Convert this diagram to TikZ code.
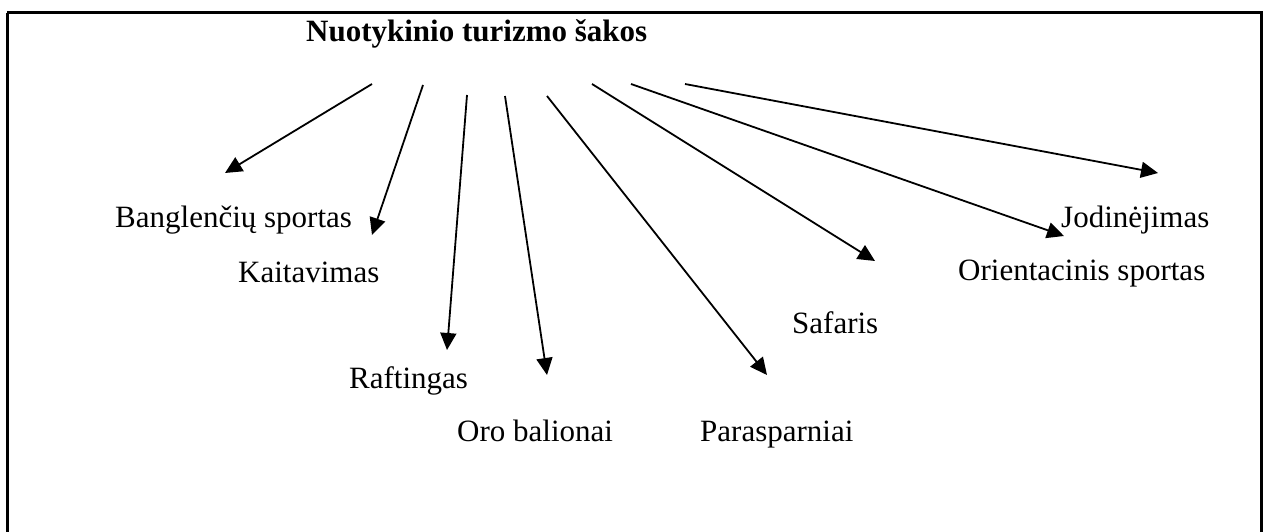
\documentclass[tikz,border=0pt]{standalone}
\usepackage{fontspec}
\setmainfont{Liberation Serif}
\usetikzlibrary{arrows.meta}
\begin{document}
\begin{tikzpicture}[x=1pt,y=-1pt,
  lbl/.style={anchor=base west,inner sep=0pt,font=\fontsize{31}{37}\selectfont},
  ttl/.style={anchor=base west,inner sep=0pt,font=\fontsize{31}{37}\selectfont\bfseries},
  conn/.style={line width=1.8pt,-{Triangle[length=17pt,width=16pt]}},
  frame/.style={line width=3pt}]
\useasboundingbox (0,0) rectangle (1268,532);
\clip (0,0) rectangle (1268,532);
\draw[frame] (7,13) -- (1261,13) -- (1261,560) (7,13) -- (7,560);
\node[ttl] (title) at (306,42) {Nuotykinio turizmo šakos};
\node[lbl] (bang) at (115,227) {Banglenčių sportas};
\node[lbl] (kait) at (238,282) {Kaitavimas};
\node[lbl] (raft) at (349,388) {Raftingas};
\node[lbl] (oro) at (457,441) {Oro balionai};
\node[lbl] (para) at (700,441) {Parasparniai};
\node[lbl] (safa) at (792,333) {Safaris};
\node[lbl] (orie) at (958,280) {Orientacinis sportas};
\node[lbl] (jodi) at (1061,227) {Jodinėjimas};
\coordinate (s1) at (372,84);  \coordinate (t1) at (225,173);
\coordinate (s2) at (423,85);  \coordinate (t2) at (372,235);
\coordinate (s3) at (467,95);  \coordinate (t3) at (447,350);
\coordinate (s4) at (505,96);  \coordinate (t4) at (547,375);
\coordinate (s5) at (547,96);  \coordinate (t5) at (767,375);
\coordinate (s6) at (592,84);  \coordinate (t6) at (875,261);
\coordinate (s7) at (631,84);  \coordinate (t7) at (1064,236);
\coordinate (s8) at (685,84);  \coordinate (t8) at (1158,173);
\foreach \i in {1,...,8} \draw[conn] (s\i) -- (t\i);
\end{tikzpicture}
\end{document}
